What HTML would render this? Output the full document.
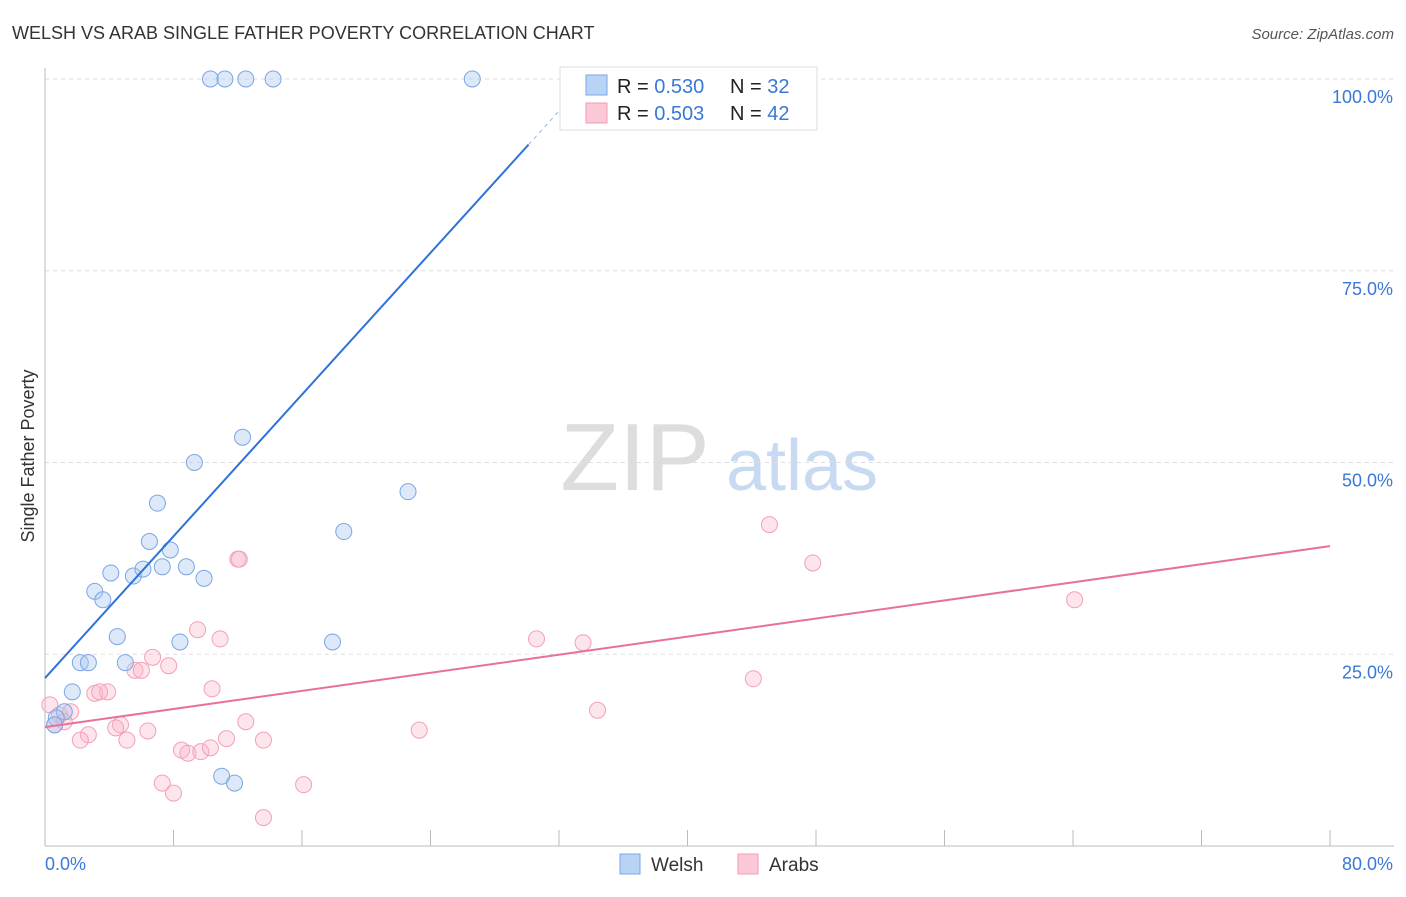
<!DOCTYPE html>
<html><head><meta charset="utf-8"><style>
body{margin:0;background:#fff;font-family:"Liberation Sans",sans-serif;}
svg text{font-family:"Liberation Sans",sans-serif;}
</style></head><body>
<svg id="c" width="1406" height="892" xmlns="http://www.w3.org/2000/svg">
<text x="12" y="39" font-size="18" fill="#333">WELSH VS ARAB SINGLE FATHER POVERTY CORRELATION CHART</text>
<text x="1394" y="39" font-size="15" fill="#555" font-style="italic" text-anchor="end">Source: ZipAtlas.com</text>
<text x="0" y="0" transform="translate(34,456) rotate(-90)" font-size="18" fill="#333" text-anchor="middle">Single Father Poverty</text>
<g><text x="635" y="490" font-size="96" font-family="Liberation Serif" fill="#ddd" text-anchor="middle">ZIP</text><text x="802" y="490" font-size="72" fill="#c8d9f2" text-anchor="middle">atlas</text></g>
<g id="grid"></g><g id="axes"></g><g id="marks"></g>
<g>
<rect x="560" y="67" width="257" height="63" fill="#fff" stroke="#ddd"/>
<rect x="586" y="75" width="21" height="20" fill="#b9d3f5" stroke="#7aa6e6"/>
<rect x="586" y="103" width="21" height="20" fill="#fbc8d6" stroke="#f09ab3"/>
<text x="617" y="93" font-size="20" fill="#222">R = <tspan fill="#3a78d8">0.530</tspan><tspan x="730">N = </tspan><tspan fill="#3a78d8">32</tspan></text>
<text x="617" y="120" font-size="20" fill="#222">R = <tspan fill="#3a78d8">0.503</tspan><tspan x="730">N = </tspan><tspan fill="#3a78d8">42</tspan></text>
</g>
<g>
<rect x="620" y="854" width="20" height="20" fill="#b9d3f5" stroke="#7aa6e6"/><text x="651" y="871" font-size="19" fill="#333">Welsh</text>
<rect x="738" y="854" width="20" height="20" fill="#fbc8d6" stroke="#f09ab3"/><text x="769" y="871" font-size="19" fill="#333">Arabs</text>
</g>
</svg>
<script>
const welshX=[10.3,11.2,12.5,14.2,26.6,12.3,9.3,7.0,22.6,18.6,6.5,7.8,4.1,5.5,6.1,7.3,8.8,9.9,3.1,3.6,4.5,8.4,17.9,2.2,2.7,5.0,1.7,1.2,0.7,0.6,11.0,11.8];
const welshY=[100,100,100,100,100,53.3,50.0,44.7,46.2,41.0,39.7,38.6,35.6,35.2,36.1,36.4,36.4,34.9,33.2,32.1,27.3,26.6,26.6,23.9,23.9,23.9,20.1,17.5,16.7,15.8,9.1,8.2];
const arabX=[45.1,47.8,64.1,12.0,12.1,9.5,10.9,30.6,33.5,6.7,5.6,6.0,7.7,44.1,10.4,3.1,3.9,3.4,34.4,12.5,4.7,4.4,6.4,2.7,2.2,5.1,13.6,23.3,11.3,8.5,8.9,9.7,10.3,7.3,8.0,16.1,13.6,0.3,0.9,1.6,0.6,1.2];
const arabY=[41.9,36.9,32.1,37.4,37.4,28.2,27.0,27.0,26.5,24.6,22.9,22.9,23.5,21.8,20.5,19.9,20.1,20.1,17.7,16.2,15.8,15.4,15.0,14.5,13.8,13.8,13.8,15.1,14.0,12.5,12.1,12.3,12.8,8.2,6.9,8.0,3.7,18.4,17.1,17.5,15.8,16.2];
const yTicks=[25,50,75,100];
const yTickLabels=["25.0%","50.0%","75.0%","100.0%"];
const welshTrend=[21.9,2.31];
const arabTrend=[15.5,0.295];
const NS="http://www.w3.org/2000/svg";
const sx=v=>45+v*1285/80, sy=v=>846-v*7.67;
function mk(t,a,p){const e=document.createElementNS(NS,t);for(const k in a)e.setAttribute(k,a[k]);document.getElementById(p).appendChild(e);return e;}
yTicks.forEach((t,i)=>{
 const l=mk('line',{x1:45,x2:1394,y1:sy(t),y2:sy(t),stroke:'#ddd','stroke-dasharray':'4,4'},'grid');
 
 
 const tx=mk('text',{x:1393,y:sy(t)+24,'font-size':18,fill:'#3a78d8','text-anchor':'end'},'axes');tx.textContent=yTickLabels[i];
 
 
});
mk('line',{x1:45,x2:45,y1:68,y2:846,stroke:'#bbb'},'axes');
mk('line',{x1:45,x2:1394,y1:846,y2:846,stroke:'#bbb'},'axes');
for(let i=0;i<=10;i++){const t=mk('line',{x1:sx(i*8),x2:sx(i*8),y1:830,y2:846,stroke:'#bbb'},'axes');
 
 }
let a=mk('text',{x:45,y:870,'font-size':18,fill:'#3a78d8'},'axes');a.textContent='0.0%';


a=mk('text',{x:1393,y:870,'font-size':18,fill:'#3a78d8','text-anchor':'end'},'axes');a.textContent='80.0%';


arabX.forEach((x,i)=>{const c=mk('circle',{cx:sx(x),cy:sy(arabY[i]),r:8,fill:'rgba(248,180,200,0.35)',stroke:'#f2a0b8','stroke-width':1},'marks');
 
 });
welshX.forEach((x,i)=>{const c=mk('circle',{cx:sx(x),cy:sy(welshY[i]),r:8,fill:'rgba(170,200,240,0.4)',stroke:'#7aa6e6','stroke-width':1},'marks');
 
 });
let xe=30.1;
let l=mk('line',{x1:sx(0),y1:sy(welshTrend[0]),x2:sx(xe),y2:sy(welshTrend[0]+welshTrend[1]*xe),stroke:'#2f72d8','stroke-width':2},'marks');


let xe2=(100-welshTrend[0])/welshTrend[1];
l=mk('line',{x1:sx(xe),y1:sy(welshTrend[0]+welshTrend[1]*xe),x2:sx(xe2),y2:sy(100),stroke:'#9bb8e8','stroke-width':1,'stroke-dasharray':'4,4'},'marks');


l=mk('line',{x1:sx(0),y1:sy(arabTrend[0]),x2:sx(80),y2:sy(arabTrend[0]+arabTrend[1]*80),stroke:'#e8709a','stroke-width':2},'marks');


</script>
</body></html>
